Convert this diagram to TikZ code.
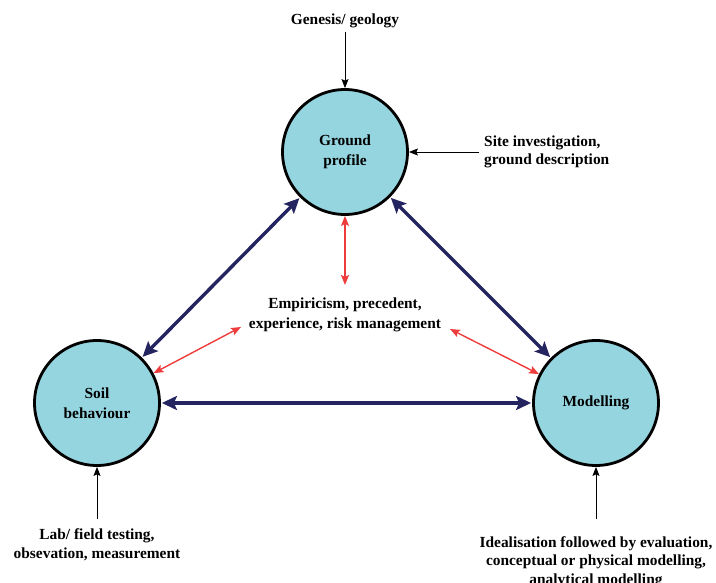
\documentclass[tikz,border=0pt]{standalone}
\usepackage{fontspec}
\setmainfont{Liberation Serif}
\usetikzlibrary{arrows.meta}
\definecolor{bubble}{RGB}{149,213,224}
\definecolor{navy}{RGB}{36,36,96}
\definecolor{redarrow}{RGB}{238,60,60}
\begin{document}
\begin{tikzpicture}[x=1pt,y=-1pt,
  every node/.style={font=\bfseries\fontsize{15.4}{20}\selectfont, align=center, inner sep=0pt},
  bubble/.style={circle, draw=black, line width=2.8pt, fill=bubble, minimum size=125pt},
  note/.style={font=\bfseries\fontsize{15.4}{18.5}\selectfont},
  mainlink/.style={navy, line width=3.4pt, {Stealth[length=15pt,width=14pt,inset=3pt]}-{Stealth[length=15pt,width=14pt,inset=3pt]}, shorten <=1pt, shorten >=1pt},
  redlink/.style={redarrow, line width=1.4pt, {Stealth[length=10pt,width=8pt,inset=2pt]}-{Stealth[length=10pt,width=8pt,inset=2pt]}},
  feed/.style={black, line width=0.8pt, -{Stealth[length=9pt,width=7pt,inset=1.5pt]}}]
\useasboundingbox (0,0) rectangle (716,583);

% the three circles
\node[bubble] (gp)  at (345,152) {Ground\\profile};
\node[bubble] (sb)  at (97,403)  {Soil\\behaviour};
\node[bubble] (mod) at (596,403) {Modelling};

% central text
\node (emp) at (345,315) {Empiricism, precedent,\\experience, risk management};

% outer notes
\node[note] (gen)  at (345,21) {Genesis/ geology};
\node[note, align=left, anchor=west] (site) at (484,152) {Site investigation,\\ground description};
\node[note] (lab)  at (97,545) {Lab/ field testing,\\obsevation, measurement};
\node[note, anchor=north] (ideal) at (596,536) {Idealisation followed by evaluation,\\conceptual or physical modelling,\\analytical modelling};

% free ends of the feed arrows
\coordinate (genend)   at (345,32);
\coordinate (siteend)  at (479,152);
\coordinate (labend)   at (97,519);
\coordinate (idealend) at (596,519);

% free ends of the red arrows beside the central text
\coordinate (eTop)   at (345,285);
\coordinate (eLeft)  at (241,327);
\coordinate (eRight) at (450,329);

% main links
\draw[mainlink] (gp) -- (sb);
\draw[mainlink] (gp) -- (mod);
\draw[mainlink] (sb) -- (mod);

% experience links
\draw[redlink] (eTop) -- (gp);
\draw[redlink] (eLeft) -- (sb);
\draw[redlink] (eRight) -- (mod);

% inputs
\draw[feed] (genend) -- (gp);
\draw[feed] (siteend) -- (gp);
\draw[feed] (labend) -- (sb);
\draw[feed] (idealend) -- (mod);
\end{tikzpicture}
\end{document}
